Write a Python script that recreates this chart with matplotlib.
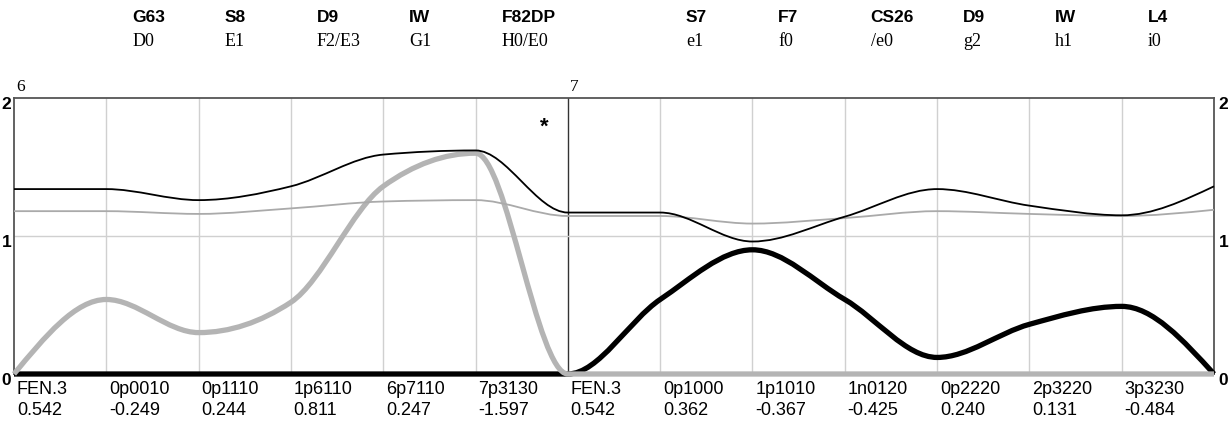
import numpy as np
import matplotlib
matplotlib.use("Agg")
from matplotlib import pyplot as plt
from matplotlib.path import Path
from matplotlib.patches import PathPatch

# grid positions 0..13 (left block 0-6, right block 6-13)
top_names = ['G63', 'S8', 'D9', 'IW', 'F82DP', 'S7', 'F7', 'CS26', 'D9', 'IW', 'L4']
top_codes = ['D0', 'E1', 'F2/E3', 'G1', 'H0/E0', 'e1', 'f0', '/e0', 'g2', 'h1', 'i0']
top_pos = [1, 2, 3, 4, 5, 7, 8, 9, 10, 11, 12]
block_labels = ['6', '7']
block_pos = [0, 6]
bottom_names = ['FEN.3', '0p0010', '0p1110', '1p6110', '6p7110', '7p3130',
                'FEN.3', '0p1000', '1p1010', '1n0120', '0p2220', '2p3220', '3p3230']
bottom_vals = ['0.542', '-0.249', '0.244', '0.811', '0.247', '-1.597',
               '0.542', '0.362', '-0.367', '-0.425', '0.240', '0.131', '-0.484']

black_thin = [1.34, 1.34, 1.26, 1.36, 1.59, 1.62, 1.17, 1.17, 0.96, 1.14, 1.34, 1.22, 1.15, 1.36]
gray_thin = [1.18, 1.18, 1.16, 1.20, 1.25, 1.26, 1.145, 1.145, 1.09, 1.13, 1.18, 1.16, 1.145, 1.19]
gray_thick = [0, 0.54, 0.30, 0.52, 1.36, 1.60, 0, 0, 0, 0, 0, 0, 0, 0]
black_thick = [0, 0, 0, 0, 0, 0, 0, 0.54, 0.90, 0.54, 0.12, 0.36, 0.49, 0]

SANS = 'Liberation Sans'
SERIF = 'Liberation Serif'


def monotone_path(xs, ys):
    # cubic bezier path with monotone tangents (like d3 curveMonotoneX)
    xs = np.asarray(xs, float)
    ys = np.asarray(ys, float)
    n = len(xs)
    h = np.diff(xs)
    s = np.diff(ys) / h
    t = np.zeros(n)
    for i in range(1, n - 1):
        p = (s[i - 1] * h[i] + s[i] * h[i - 1]) / (h[i - 1] + h[i])
        t[i] = (np.sign(s[i - 1]) + np.sign(s[i])) * min(abs(s[i - 1]), abs(s[i]), 0.5 * abs(p))
    t[0] = (3 * s[0] - t[1]) / 2
    t[-1] = (3 * s[-1] - t[-2]) / 2
    verts = [(xs[0], ys[0])]
    codes = [Path.MOVETO]
    for i in range(n - 1):
        dx = h[i] / 3
        verts += [(xs[i] + dx, ys[i] + dx * t[i]),
                  (xs[i + 1] - dx, ys[i + 1] - dx * t[i + 1]),
                  (xs[i + 1], ys[i + 1])]
        codes += [Path.CURVE4] * 3
    return Path(verts, codes)


fig = plt.figure(figsize=(12.32, 4.25), dpi=100)
ax = fig.add_axes([14 / 1232, 51 / 425, 1200 / 1232, 276 / 425])
x = np.arange(len(black_thin))
ax.set_xlim(0, 13)
ax.set_ylim(0, 2)
ax.set_xticks([])
ax.set_yticks([])
for sp in ax.spines.values():
    sp.set_color('#555555')
    sp.set_linewidth(1.3)

for gx in range(1, 13):
    if gx == 6:
        ax.axvline(gx, color='#333333', lw=1.0, zorder=1)
    else:
        ax.axvline(gx, color='#d0d0d0', lw=1.0, zorder=1)
ax.axhline(1, color='#d0d0d0', lw=1.0, zorder=1)

series = [(black_thick, 'black', 3.8), (gray_thick, '#b4b4b4', 3.8),
          (gray_thin, '#aaaaaa', 1.3), (black_thin, 'black', 1.3)]
for z, (vals, col, lw) in enumerate(series):
    patch = PathPatch(monotone_path(x, vals), facecolor='none', edgecolor=col,
                      lw=lw, capstyle='butt', joinstyle='round', zorder=3 + z, clip_on=False)
    ax.add_patch(patch)

ax.text(5.75, 1.79, '*', fontsize=16, fontweight='bold', family=SANS, ha='center', va='center')

# y labels both sides
for v in [0, 1, 2]:
    ax.text(-0.03, v + 0.01, str(v), ha='right', va='top',
            fontsize=12.5, fontweight='bold', family=SANS)
    ax.text(13.05, v + 0.01, str(v), ha='left', va='top', fontsize=12.5, fontweight='bold', family=SANS)

# block labels above the plot
for lab, p in zip(block_labels, block_pos):
    ax.text(p + 0.02, 2.02, lab, ha='left', va='bottom', fontsize=12.5, family=SERIF)

# header rows
for nm, cd, p in zip(top_names, top_codes, top_pos):
    ax.text(p + 0.28, 2.58, nm, ha='left', va='center', fontsize=12.5, fontweight='bold', family=SANS)
    ax.text(p + 0.28, 2.41, cd, ha='left', va='center', fontsize=13, family=SERIF)

# bottom labels
for i, (nm, vl) in enumerate(zip(bottom_names, bottom_vals)):
    ax.text(i + 0.03, -0.05, nm, ha='left', va='top', fontsize=13, family=SANS)
    ax.text(i + 0.03, -0.205, vl, ha='left', va='top', fontsize=13, family=SANS)

fig.savefig('out.png', dpi=100)
